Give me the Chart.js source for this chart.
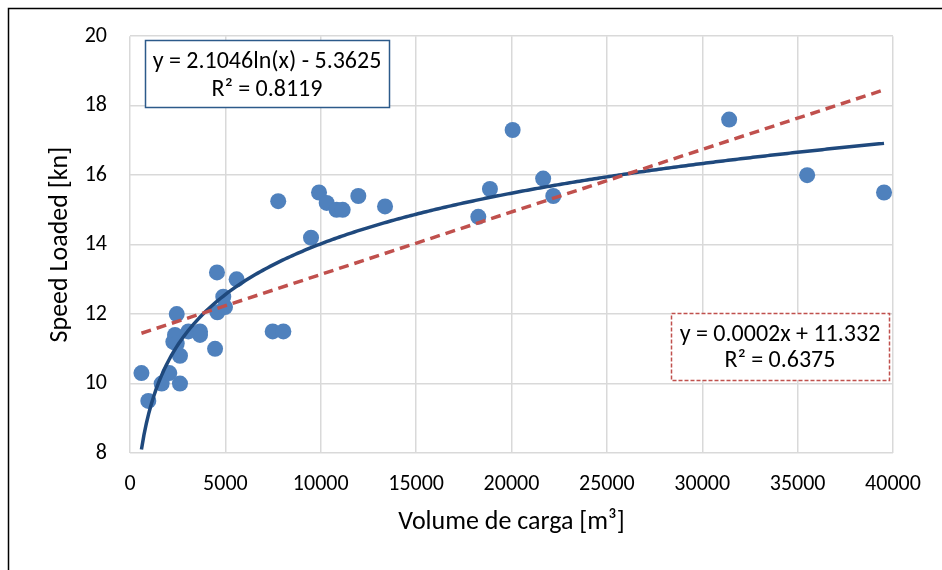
<!DOCTYPE html>
<html>
<head>
<meta charset="utf-8">
<script src="https://cdn.jsdelivr.net/npm/chart.js@4.4.1/dist/chart.umd.min.js"></script>
<style>
  html, body { margin: 0; padding: 0; background: #ffffff; }
  #wrap { width: 942px; height: 570px; position: relative; }
</style>
</head>
<body>
<div id="wrap"><canvas id="c" width="942" height="570"></canvas></div>
<script>
// ---- Data ----
const volume = [600, 960, 1660, 2060, 2270, 2360, 2450, 2450, 2620, 2620,
                3060, 3670, 3670, 4460, 4560, 4580, 4980, 4890, 5590,
                7480, 8040, 7770, 9490, 9910, 10310, 10830, 11150, 11970, 13370,
                18260, 18870, 20060, 21660, 22190, 31410, 35500, 39530];
const speed  = [10.3, 9.5, 10.0, 10.3, 11.2, 11.4, 12.0, 11.15, 10.8, 10.0,
                11.5, 11.5, 11.4, 11.0, 13.2, 12.05, 12.2, 12.5, 13.0,
                11.5, 11.5, 15.25, 14.2, 15.5, 15.2, 15.0, 15.0, 15.4, 15.1,
                14.8, 15.6, 17.3, 15.9, 15.4, 17.6, 16.0, 15.5];
const xTickValues = [0, 5000, 10000, 15000, 20000, 25000, 30000, 35000, 40000];
const yTickValues = [8, 10, 12, 14, 16, 18, 20];
// Trendline coefficients as drawn in the reference (log one is its label;
// the linear one is the unrounded line the picture shows).
const logCoef = { a: 2.1046, b: -5.3625 };
const linCoef = { a: 0.00018, b: 11.34 };
const logLabel = ["y = 2.1046ln(x) - 5.3625", "R² = 0.8119"];
const linLabel = ["y = 0.0002x + 11.332", "R² = 0.6375"];

const xMin = Math.min(...volume), xMax = Math.max(...volume);
const logPts = [], linPts = [];
for (let i = 0; i <= 300; i++) {
  const x = xMin + (xMax - xMin) * i / 300;
  logPts.push({ x, y: logCoef.a * Math.log(x) + logCoef.b });
}
linPts.push({ x: xMin, y: linCoef.a * xMin + linCoef.b });
linPts.push({ x: xMax, y: linCoef.a * xMax + linCoef.b });

const FONT = "Carlito, 'Liberation Sans Narrow', 'Liberation Sans', sans-serif";

const boxes = {
  id: 'boxes',
  beforeDraw(chart) {
    const ctx = chart.ctx;
    ctx.save();
    ctx.fillStyle = '#ffffff';
    ctx.fillRect(0, 0, chart.width, chart.height);
    ctx.strokeStyle = '#000000';
    ctx.lineWidth = 1.5;
    ctx.beginPath();
    ctx.moveTo(8.5, 600); ctx.lineTo(8.5, 8.5); ctx.lineTo(960, 8.5);
    ctx.stroke();
    ctx.restore();
  },
  afterDraw(chart) {
    const ctx = chart.ctx;
    ctx.save();
    ctx.fillStyle = '#ffffff';
    ctx.fillRect(145, 40, 244, 67);
    ctx.strokeStyle = '#2c5a8a';
    ctx.lineWidth = 1.5;
    ctx.strokeRect(145.5, 40.5, 244, 67);
    ctx.fillStyle = '#000000';
    ctx.font = "24px " + FONT;
    ctx.textAlign = 'center';
    ctx.textBaseline = 'middle';
    ctx.fillText(logLabel[0], 267, 62);
    ctx.fillText(logLabel[1], 267, 90);
    ctx.fillStyle = '#ffffff';
    ctx.fillRect(671, 313, 218, 67);
    ctx.strokeStyle = '#c0504d';
    ctx.setLineDash([4, 2]);
    ctx.strokeRect(671.5, 313.5, 218, 67);
    ctx.setLineDash([]);
    ctx.fillStyle = '#000000';
    ctx.fillText(linLabel[0], 780, 335);
    ctx.fillText(linLabel[1], 780, 361);
    ctx.restore();
  }
};

new Chart(document.getElementById('c'), {
  type: 'scatter',
  data: {
    datasets: [
      { label: 'Linear', type: 'line', data: linPts, borderColor: '#c0504d', borderWidth: 3.5,
        borderDash: [10, 6], pointRadius: 0, fill: false, order: 0 },
      { label: 'Log', type: 'line', data: logPts, borderColor: '#1f497d', borderWidth: 3.5,
        pointRadius: 0, fill: false, tension: 0, order: 1 },
      { label: 'Speed', data: volume.map((v, i) => ({ x: v, y: speed[i] })),
        backgroundColor: '#4f81bd', borderColor: '#4f81bd', pointRadius: 8, borderWidth: 0, order: 2 }
    ]
  },
  options: {
    responsive: false,
    animation: false,
    devicePixelRatio: 1,
    layout: { padding: { left: 0, top: 33, right: 49, bottom: 0 } },
    plugins: { legend: { display: false }, tooltip: { enabled: false } },
    scales: {
      x: {
        type: 'linear', min: 0, max: 40000,
        afterBuildTicks(s) { s.ticks = xTickValues.map(v => ({ value: v })); },
        afterFit(s) { s.height = 117; },
        grid: { color: '#d9d9d9', lineWidth: 1.5, drawTicks: false },
        border: { display: false },
        ticks: { color: '#000000', font: { family: FONT, size: 22 }, padding: 18, maxRotation: 0,
                 callback: v => String(v) },
        title: { display: true, text: 'Volume de carga [m³]', color: '#000000',
                 font: { family: FONT, size: 26 }, padding: { top: 0, bottom: 32 } }
      },
      y: {
        type: 'linear', min: 8, max: 20,
        afterBuildTicks(s) { s.ticks = yTickValues.map(v => ({ value: v })); },
        afterFit(s) { s.width = 130; },
        grid: { color: '#d9d9d9', lineWidth: 1.5, drawTicks: false },
        border: { display: false },
        ticks: { color: '#000000', font: { family: FONT, size: 22 }, padding: 23,
                 callback: v => String(v) },
        title: { display: true, text: 'Speed Loaded [kn]', color: '#000000',
                 font: { family: FONT, size: 26 }, padding: { top: 45, bottom: 0 } }
      }
    }
  },
  plugins: [boxes]
});
</script>
</body>
</html>
